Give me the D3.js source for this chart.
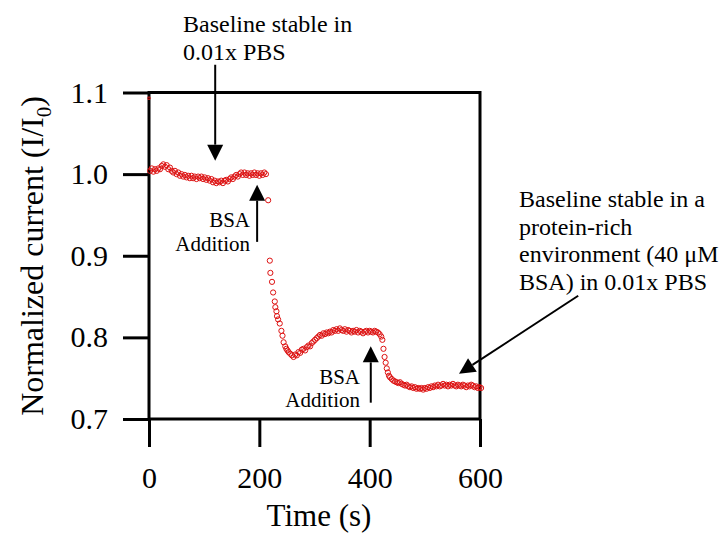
<!DOCTYPE html>
<html>
<head>
<meta charset="utf-8">
<script src="https://cdn.jsdelivr.net/npm/d3@7"></script>
<style>
  body { margin: 0; background: #fff; }
  svg { display: block; font-family: "Liberation Serif", "Times New Roman", serif; }
</style>
</head>
<body>
<div id="chart"></div>
<script>
// Time (s) and normalized current I/I0
const timeS = [
  0, 2, 5, 8, 11, 14, 17, 20, 23, 26, 29, 32, 35, 38, 41, 44, 47, 50, 53, 56, 59, 62, 65, 68, 71, 74, 77, 80,
  83, 86, 89, 92, 95, 98, 101, 104, 107, 110, 113, 116, 119, 122, 125, 128, 131, 134, 137, 140, 143, 146, 149,
  152, 155, 158, 161, 164, 167, 170, 173, 176, 179, 182, 185, 188, 191, 194, 197, 200, 203, 206, 209, 212, 216,
  219, 220, 223, 225, 228, 229, 231, 232, 234, 237, 240, 242, 244, 247, 249, 251, 253, 256, 259,
  262, 265, 268, 271, 274, 277, 280, 283, 286, 289, 292, 295, 298, 301, 304, 307, 310, 313, 316, 319, 322, 325,
  328, 331, 334, 337, 340, 343, 346, 349, 352, 355, 358, 361, 364, 367, 370, 373, 376, 379, 382, 385, 388, 391,
  394, 397, 400, 403, 406, 409, 412, 415, 418, 421,
  423, 425, 427, 429, 431, 433, 435, 437, 440, 443, 446, 449, 452, 455, 458, 461, 464, 467, 470, 473, 476, 479,
  482, 485, 488, 491, 494, 497, 500, 503, 506, 509, 512, 515, 518, 521, 524, 527, 530, 533, 536, 539, 542, 545,
  548, 551, 554, 557, 560, 563, 566, 569, 572, 575, 578, 581, 584, 587, 590, 593, 596, 599, 602
];
const normCurrent = [
  1.093, 1.004, 1.007, 1.003, 1.006, 1.004, 1.007, 1.006, 1.010, 1.012, 1.009, 1.011, 1.006, 1.008, 1.004, 1.002,
  1.004, 1.000, 1.002, 0.998, 1.000, 0.997, 0.999, 0.996, 0.998, 0.995, 0.998, 0.995, 0.997, 0.994, 0.997, 0.995,
  0.997, 0.994, 0.996, 0.993, 0.995, 0.992, 0.994, 0.990, 0.992, 0.989, 0.991, 0.990, 0.992, 0.989, 0.992, 0.993,
  0.991, 0.994, 0.996, 0.994, 0.997, 0.999, 0.997, 1.000, 1.002, 0.999, 1.002, 0.999, 1.001, 0.998, 1.001, 0.999,
  1.002, 0.999, 1.001, 0.998, 1.001, 0.999, 1.002, 1.000, 0.968,
  0.894, 0.879, 0.868, 0.855, 0.844, 0.837, 0.832, 0.826, 0.822, 0.817, 0.808, 0.802, 0.794, 0.789, 0.786, 0.784,
  0.782, 0.780, 0.778,
  0.776, 0.779, 0.778, 0.782, 0.781, 0.785, 0.786, 0.784, 0.788, 0.790, 0.789, 0.793, 0.795, 0.797, 0.799, 0.801,
  0.803, 0.802, 0.805, 0.804, 0.806, 0.805, 0.807, 0.806, 0.809, 0.808, 0.810, 0.808, 0.811, 0.809, 0.808, 0.810,
  0.807, 0.809, 0.808, 0.806, 0.808, 0.807, 0.809, 0.806, 0.808, 0.807, 0.805, 0.807, 0.808, 0.806, 0.808, 0.807,
  0.806, 0.808, 0.807, 0.806, 0.804, 0.801,
  0.797, 0.786, 0.776, 0.769, 0.762, 0.757, 0.753, 0.751, 0.749, 0.747, 0.746, 0.745, 0.744, 0.745, 0.743, 0.742,
  0.741, 0.742, 0.740, 0.739, 0.740, 0.738, 0.739, 0.737, 0.738, 0.737, 0.738, 0.736, 0.738, 0.737, 0.739, 0.738,
  0.740, 0.739, 0.741, 0.740, 0.742, 0.740, 0.741, 0.743, 0.741, 0.742, 0.740, 0.742, 0.741, 0.743, 0.741, 0.740,
  0.742, 0.741, 0.740, 0.742, 0.741, 0.739, 0.741, 0.740, 0.742, 0.741, 0.739, 0.740, 0.738, 0.739, 0.738
];

const xTicks = [0, 200, 400, 600];
const yTicks = [0.7, 0.8, 0.9, 1.0, 1.1];

// Annotation arrows in data coordinates: tail -> tip
const arrows = [
  { from: [120, 1.134], to: [120, 1.0165] },
  { from: [196, 0.917], to: [196, 0.987] },
  { from: [402, 0.720], to: [402, 0.789] },
  { from: [778, 0.851], to: [562, 0.7555] }
];

const width = 721, height = 536;
const svg = d3.select('#chart').append('svg')
    .attr('width', width)
    .attr('height', height);

const x = d3.scaleLinear().domain([0, 600]).range([149, 480]);
const y = d3.scaleLinear().domain([0.7, 1.1]).range([419, 92.5]);

// Axes with outward ticks
const yAxis = svg.append('g')
    .attr('transform', `translate(${x(0)},0)`)
    .call(d3.axisLeft(y).tickValues(yTicks).tickSize(26).tickPadding(15).tickFormat(d3.format('.1f')));
const xAxis = svg.append('g')
    .attr('transform', `translate(0,${y(0.7)})`)
    .call(d3.axisBottom(x).tickValues(xTicks).tickSize(28).tickPadding(20).tickFormat(d3.format('d')));

[yAxis, xAxis].forEach(a => {
    a.select('.domain').remove();
    a.selectAll('.tick line').attr('stroke', '#000').attr('stroke-width', 3);
    a.selectAll('.tick text')
        .attr('fill', '#000')
        .style('font-family', '"Liberation Serif", serif')
        .style('font-size', '30px');
});

// Frame
svg.append('rect')
    .attr('x', x(0))
    .attr('y', y(1.1))
    .attr('width', x(600) - x(0))
    .attr('height', y(0.7) - y(1.1))
    .attr('fill', 'none')
    .attr('stroke', '#000')
    .attr('stroke-width', 3);

// Data points: open red circles
svg.append('g')
    .selectAll('circle')
    .data(timeS.map((t, i) => [t, normCurrent[i]]))
    .enter()
    .append('circle')
    .attr('cx', d => x(d[0]))
    .attr('cy', d => y(d[1]))
    .attr('r', d => d[1] > 1.05 ? 1.3 : 2.6)
    .attr('fill', 'none')
    .attr('stroke', '#dd1111')
    .attr('stroke-width', 1);

// Axis titles
svg.append('text')
    .attr('x', 319)
    .attr('y', 526)
    .attr('text-anchor', 'middle')
    .style('font-size', '31px')
    .text('Time (s)');

const yTitle = svg.append('text')
    .attr('transform', 'translate(43,256) rotate(-90)')
    .attr('text-anchor', 'middle')
    .style('font-size', '32px');
yTitle.append('tspan').text('Normalized current (I/I');
yTitle.append('tspan').attr('dy', 8).style('font-size', '21px').text('0');
yTitle.append('tspan').attr('dy', -8).text(')');

// Arrows
arrows.forEach(a => {
    const x1 = x(a.from[0]), y1 = y(a.from[1]);
    const x2 = x(a.to[0]), y2 = y(a.to[1]);
    const ang = Math.atan2(y2 - y1, x2 - x1);
    const headLen = 16, headHalf = 8;
    const bx = x2 - headLen * Math.cos(ang), by = y2 - headLen * Math.sin(ang);
    svg.append('line')
        .attr('x1', x1).attr('y1', y1)
        .attr('x2', bx).attr('y2', by)
        .attr('stroke', '#000')
        .attr('stroke-width', 2);
    const px = -Math.sin(ang) * headHalf, py = Math.cos(ang) * headHalf;
    svg.append('polygon')
        .attr('points', `${x2},${y2} ${bx + px},${by + py} ${bx - px},${by - py}`)
        .attr('fill', '#000');
});

// Annotation text
function addLines(lines, xPos, yPos, lineGap, size, anchor) {
    lines.forEach((line, i) => {
        svg.append('text')
            .attr('x', xPos)
            .attr('y', yPos + i * lineGap)
            .attr('text-anchor', anchor)
            .style('font-size', size)
            .text(line);
    });
}

addLines(['Baseline stable in', '0.01x PBS'], 183, 32, 28, '24px', 'start');
addLines(['BSA', 'Addition'], 250, 227, 24, '21px', 'end');
addLines(['BSA', 'Addition'], 360, 384, 23, '21px', 'end');
addLines(['Baseline stable in a', 'protein-rich', 'environment (40 \u03BCM', 'BSA) in 0.01x PBS'], 519, 207, 27.7, '24px', 'start');
</script>
</body>
</html>
